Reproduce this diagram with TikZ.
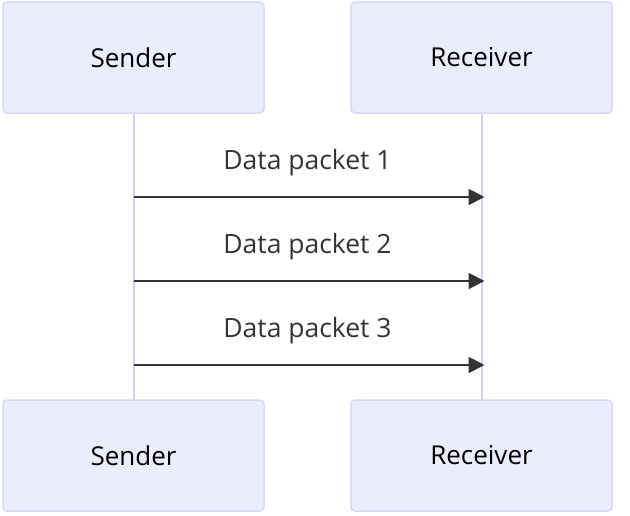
\documentclass[tikz,border=0pt]{standalone}
\usepackage{fontspec}
\setmainfont{Open Sans}
\usetikzlibrary{arrows.meta}
\definecolor{actfill}{HTML}{ECECFF}
\definecolor{actline}{HTML}{D8D8F4}
\definecolor{lifeline}{HTML}{D0D0F0}
\definecolor{msg}{HTML}{333333}
\tikzset{
  x=1pt, y=-1pt,
  actor/.style={draw=actline, fill=actfill, line width=1.5pt, rounded corners=4pt,
    minimum width=261pt, minimum height=111pt, inner sep=0pt, font=\fontsize{26}{30}\selectfont, text=black},
  life/.style={draw=lifeline, line width=2pt},
  message/.style={draw=msg, line width=2pt, -{Triangle[length=16pt,width=16pt]}, shorten >=-3pt},
  msglabel/.style={font=\fontsize{26.5}{30}\selectfont, text=msg}
}
\begin{document}
\begin{tikzpicture}
\useasboundingbox[fill=white] (0,0) rectangle (630,515);
\draw[life] (133.5,113) -- (133.5,400);
\draw[life] (481.5,113) -- (481.5,400);
\node[actor] (st) at (133.5,57.5) {Sender};
\node[actor] (rt) at (481.5,57.5) {Receiver};
\node[actor] (sb) at (133.5,455.5) {Sender};
\node[actor] (rb) at (481.5,455.5) {Receiver};
\coordinate (a1) at (133.5,197);
\coordinate (b1) at (481.5,197);
\coordinate (a2) at (133.5,281);
\coordinate (b2) at (481.5,281);
\coordinate (a3) at (133.5,365);
\coordinate (b3) at (481.5,365);
\draw[message] (a1) -- (b1);
\draw[message] (a2) -- (b2);
\draw[message] (a3) -- (b3);
\node[msglabel] (l1) at (307.5,163) {Data packet 1};
\node[msglabel] (l2) at (307.5,247) {Data packet 2};
\node[msglabel] (l3) at (307.5,331) {Data packet 3};
\end{tikzpicture}
\end{document}
